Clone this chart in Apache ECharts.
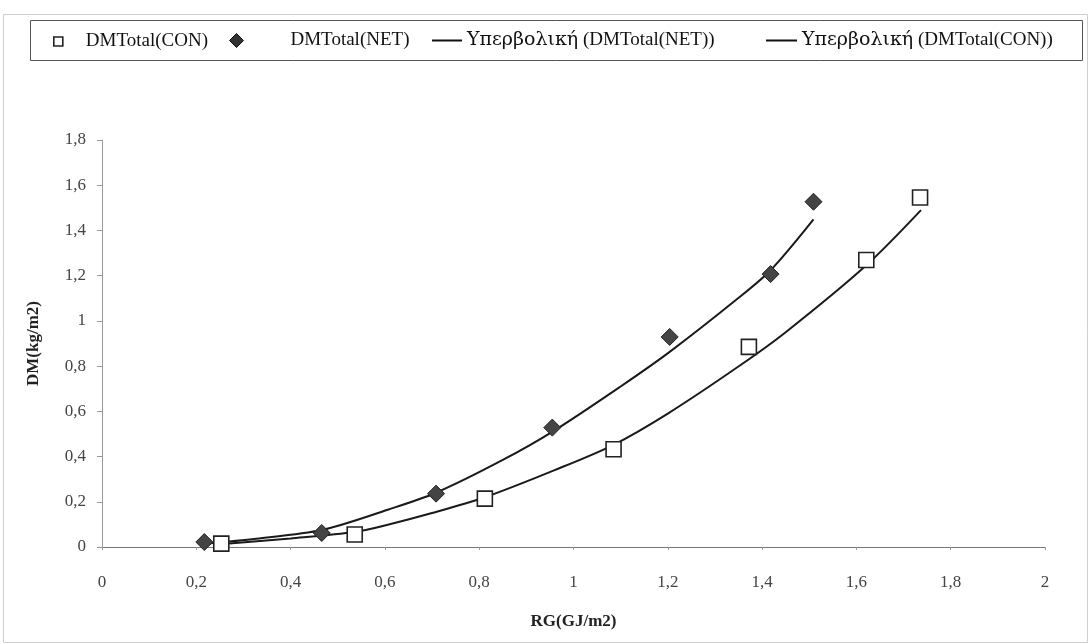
<!DOCTYPE html>
<html>
<head>
<meta charset="utf-8">
<script src="https://cdn.jsdelivr.net/npm/echarts@6/dist/echarts.min.js"></script>
<style>
html,body{margin:0;padding:0;background:#fff;}
#chart{width:1091px;height:644px;}
</style>
</head>
<body>
<div id="chart"></div>
<script>
// ---- data ----
const conRG = [0.253, 0.536, 0.812, 1.085, 1.372, 1.621, 1.735];
const conDM = [0.015, 0.055, 0.214, 0.432, 0.885, 1.269, 1.546];
const netRG = [0.217, 0.466, 0.7085, 0.955, 1.204, 1.418, 1.509];
const netDM = [0.022, 0.062, 0.236, 0.528, 0.929, 1.207, 1.527];
// trendline traces
const netTrendRG = [0.22, 0.327, 0.466, 0.606, 0.7085, 0.85, 0.96, 1.1, 1.204, 1.349, 1.418, 1.509];
const netTrendDM = [0.015, 0.037, 0.075, 0.165, 0.24, 0.385, 0.516, 0.71, 0.863, 1.1, 1.224, 1.449];
const conTrendRG = [0.25, 0.4, 0.536, 0.6, 0.7, 0.812, 0.96, 1.085, 1.2, 1.349, 1.45, 1.621, 1.737];
const conTrendDM = [0.012, 0.038, 0.066, 0.095, 0.15, 0.22, 0.34, 0.452, 0.59, 0.797, 0.95, 1.246, 1.49];

const seriesNames = ['DMTotal(CON)', 'DMTotal(NET)', 'Υπερβολική (DMTotal(NET))', 'Υπερβολική (DMTotal(CON))'];
const xAxisName = 'RG(GJ/m2)';
const yAxisName = 'DM(kg/m2)';

const zip = (a, b) => a.map((v, i) => [v, b[i]]);
const fmt = v => String(Math.round(v * 10) / 10).replace('.', ',');
const FONT = "'Liberation Serif', 'Times New Roman', serif";

const chart = echarts.init(document.getElementById('chart'), null, {renderer: 'canvas'});
const legFmt = name => {
  const i = name.indexOf(' ');
  return name.startsWith('Υπερβολική') ? '{g|' + name.slice(0, i) + '}' + name.slice(i) : name;
};
const legTxt = (pad) => ({
  fontFamily: FONT, fontSize: 19, color: '#111', padding: [0, 0, 0, pad],
  rich: {g: {fontFamily: "'DejaVu Serif', serif", fontSize: 19, color: '#111'}}
});
const LTOP = 31;

chart.setOption({
  backgroundColor: '#fff',
  animation: false,
  graphic: [
    {type: 'rect', shape: {x: 3.5, y: 14.5, width: 1084, height: 628}, style: {fill: 'none', stroke: '#cfcfcf', lineWidth: 1}, z: -1},
    {type: 'rect', shape: {x: 30.5, y: 20.5, width: 1052, height: 40}, style: {fill: '#fff', stroke: '#555', lineWidth: 1}, z: 0}
  ],
  legend: [
    {data: [{name: seriesNames[0], icon: 'rect', itemStyle: {color: '#fff', borderColor: '#222', borderWidth: 1.6}}],
     left: 53, top: LTOP + 1, padding: 0, itemWidth: 9, itemHeight: 9, formatter: legFmt, textStyle: legTxt(18), z: 5},
    {data: [{name: seriesNames[1], icon: 'diamond', itemStyle: {color: '#333', borderColor: '#111', borderWidth: 1}}],
     left: 229, top: LTOP, padding: 0, itemWidth: 14, itemHeight: 14, formatter: legFmt, textStyle: legTxt(42), z: 5},
    {data: [{name: seriesNames[2], icon: 'rect', itemStyle: {color: '#111', borderWidth: 0}}],
     left: 432, top: LTOP, padding: 0, itemWidth: 30, itemHeight: 2, formatter: legFmt, textStyle: legTxt(0), z: 5},
    {data: [{name: seriesNames[3], icon: 'rect', itemStyle: {color: '#111', borderWidth: 0}}],
     left: 766, top: LTOP, padding: 0, itemWidth: 31, itemHeight: 2, formatter: legFmt, textStyle: legTxt(0), z: 5}
  ],
  grid: {left: 102, right: 46, top: 140, bottom: 97, containLabel: false},
  xAxis: {
    type: 'value', min: 0, max: 2, interval: 0.2,
    name: xAxisName, nameLocation: 'middle', nameGap: 66,
    nameTextStyle: {fontFamily: FONT, fontSize: 17, fontWeight: 'bold', color: '#222'},
    axisLine: {onZero: false, lineStyle: {color: '#777', width: 1.2}},
    axisTick: {show: true, length: 3, lineStyle: {color: '#999'}},
    splitLine: {show: false},
    axisLabel: {formatter: fmt, margin: 27, fontFamily: FONT, fontSize: 17, color: '#444'}
  },
  yAxis: {
    type: 'value', min: 0, max: 1.8, interval: 0.2,
    name: yAxisName, nameLocation: 'middle', nameGap: 60,
    nameTextStyle: {fontFamily: FONT, fontSize: 17, fontWeight: 'bold', color: '#222'},
    axisLine: {show: true, lineStyle: {color: '#999', width: 1}},
    axisTick: {show: true, length: 5, lineStyle: {color: '#999'}},
    splitLine: {show: false},
    axisLabel: {formatter: fmt, margin: 16, fontFamily: FONT, fontSize: 17, color: '#444'}
  },
  series: [
    {name: seriesNames[2], type: 'line', data: zip(netTrendRG, netTrendDM), symbol: 'none', smooth: 0.3,
     lineStyle: {color: '#1a1a1a', width: 2}, itemStyle: {color: '#1a1a1a'}, z: 2},
    {name: seriesNames[3], type: 'line', data: zip(conTrendRG, conTrendDM), symbol: 'none', smooth: 0.3,
     lineStyle: {color: '#1a1a1a', width: 2}, itemStyle: {color: '#1a1a1a'}, z: 2},
    {name: seriesNames[0], type: 'scatter', data: zip(conRG, conDM), symbol: 'rect', symbolSize: 15,
     itemStyle: {color: '#fff', borderColor: '#222', borderWidth: 1.6, opacity: 1}, z: 3},
    {name: seriesNames[1], type: 'scatter', data: zip(netRG, netDM), symbol: 'diamond', symbolSize: 17,
     itemStyle: {color: '#444', borderColor: '#222', borderWidth: 1, opacity: 1}, z: 3}
  ]
});
</script>
</body>
</html>
